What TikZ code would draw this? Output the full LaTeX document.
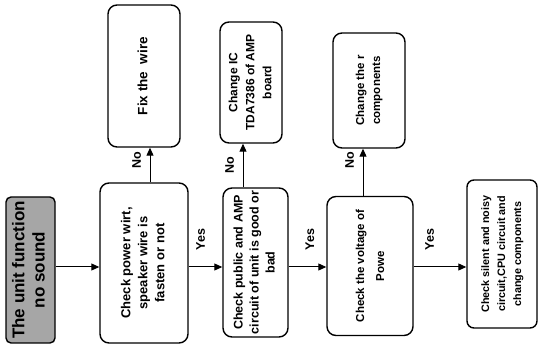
\documentclass[tikz,border=0pt]{standalone}
\usepackage{fontspec}
\setmainfont{Liberation Sans}
\usetikzlibrary{arrows.meta}
\newcommand{\vt}[1]{\rotatebox{90}{\begin{tabular}{@{}c@{}}#1\end{tabular}}}
\begin{document}
\begin{tikzpicture}[x=1pt,y=-1pt,
  box/.style={draw, line width=1.4pt, rounded corners=9pt, fill=white, inner sep=0pt},
  arr/.style={line width=1pt, -{Triangle[length=8pt,width=7pt]}},
  lbl/.style={font=\fontsize{12.5}{14}\selectfont\bfseries}]
\useasboundingbox (0,0) rectangle (538,344);
\node[box, rounded corners=5pt, fill=black!35, text=black, minimum width=49pt, minimum height=146pt,
  font=\fontsize{17}{20}\selectfont\bfseries] (start) at (30.5,270) {\vt{The unit function\\no sound}};
\node[box, minimum width=88pt, minimum height=160pt, font=\fontsize{13}{17}\selectfont\bfseries]
  (wire) at (144,263) {\vt{Check power wirt,\\speaker wire is\\fasten or not}};
\node[box, minimum width=72pt, minimum height=142pt, font=\fontsize{13.5}{17}\selectfont\bfseries]
  (fixwire) at (144,76) {\vt{Fix the\ \ wire}};
\node[box, minimum width=65pt, minimum height=149pt, font=\fontsize{12.5}{16}\selectfont\bfseries]
  (amp) at (255.5,262.5) {\vt{Check public and AMP\\circuit of unit is good or\\bad}};
\node[box, minimum width=62pt, minimum height=121pt, font=\fontsize{12}{17}\selectfont\bfseries]
  (changeic) at (251,82.5) {\vt{Change IC\\TDA7386 of AMP\\board}};
\node[box, minimum width=86pt, minimum height=139pt, font=\fontsize{11.5}{20}\selectfont\bfseries]
  (power) at (370,266) {\vt{Check the voltage of\\Powe}};
\node[box, minimum width=72pt, minimum height=115pt, font=\fontsize{11.5}{16}\selectfont\bfseries]
  (changer) at (369,90.5) {\vt{Change the r\\components}};
\node[box, rounded corners=7pt, minimum width=70pt, minimum height=148pt,
  font=\fontsize{10.8}{16}\selectfont\bfseries]
  (cpu) at (502,254) {\vt{Check silent and noisy\\circuit,CPU circuit and\\change components}};
% main row
\coordinate (row) at (0,267);
\draw[arr] (start.east |- row) -- (wire.west |- row);
\draw[arr] (wire.east |- row) -- (amp.west |- row) node[lbl, pos=0.4, above=13pt] {\vt{Yes}};
\draw[arr] (amp.east |- row) -- (power.west |- row) node[lbl, pos=0.6, above=13pt] {\vt{Yes}};
\draw[arr] (power.east |- row) -- (cpu.west |- row) node[lbl, pos=0.33, above=13pt] {\vt{Yes}};
% No branches
\draw[arr] (wire.north -| 150,0) -- (fixwire.south -| 150,0) node[lbl, pos=0.65, left=1pt] {\vt{No}};
\draw[arr] (amp.north -| 243,0) -- (changeic.south -| 243,0) node[lbl, midway, left=1pt] {\vt{No}};
\draw[arr] (power.north -| 363,0) -- (changer.south -| 363,0) node[lbl, pos=0.75, left=1pt] {\vt{No}};
\end{tikzpicture}
\end{document}
